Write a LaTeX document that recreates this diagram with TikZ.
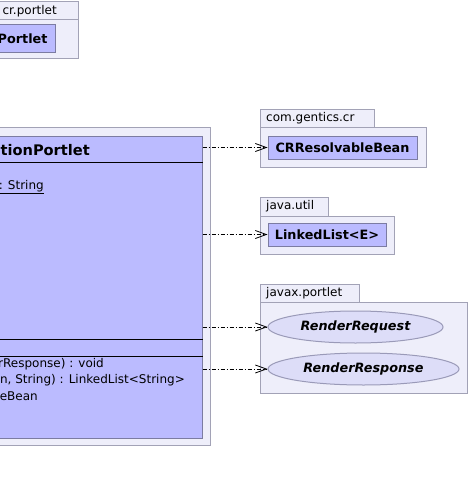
\documentclass[tikz,border=0pt]{standalone}
\usepackage{fontspec}
\setmainfont{DejaVu Sans}
\usetikzlibrary{shapes,arrows.meta,positioning}
\definecolor{pkgfill}{HTML}{EEEEFA}
\definecolor{pkgline}{HTML}{A2A2B6}
\definecolor{clsfill}{HTML}{BBBBFF}
\definecolor{clsline}{HTML}{7C7CA2}
\definecolor{ifcfill}{HTML}{DDDDF8}
\definecolor{ifcline}{HTML}{9A9AB8}

\begin{document}
\begin{tikzpicture}[x=1pt,y=-1pt,
		pkg/.style={draw=pkgline,fill=pkgfill,line width=1pt},
		pkgname/.style={inner sep=0pt,font=\fontsize{12}{14}\selectfont},
		cls/.style={draw=clsline,fill=clsfill,line width=1pt,inner sep=0pt,font=\bfseries\fontsize{12.8}{15}\selectfont},
		ifc/.style={ellipse,draw=ifcline,fill=ifcfill,line width=1pt,inner sep=0pt,font=\bfseries\itshape\fontsize{12.8}{15}\selectfont},
		member/.style={inner sep=0pt,anchor=east,font=\fontsize{12}{14}\selectfont},
		dep/.style={dash pattern=on 4pt off 2pt on 1pt off 2pt,line width=0.8pt,-{Straight Barb[length=11pt,width=8pt,line width=0.8pt]}}]
		\useasboundingbox (0,0) rectangle (470,484);
		\clip (0,0) rectangle (470,484);
		% cr.portlet
		\draw[pkg] (-10,2) rectangle (78,20);
		\draw[pkg] (-10,20) rectangle (78,59);
		\node[pkgname,anchor=east] (crptab) at (57,11) {cr.portlet};
		\node[cls,minimum width=65,minimum height=28] (portlet) at (22.5,39) {};
		\node[cls,draw=none,fill=none,anchor=east] (portletname) at (48,39) {Portlet};
		% package of the portlet class
		\draw[pkg] (-10,127) rectangle (210,445);
		\node[cls,minimum width=212,minimum height=302] (portletcls) at (96,287) {};
		\node[inner sep=0pt,anchor=east,font=\bfseries\fontsize{14.6}{17}\selectfont] (clsname) at (90,150) {tionPortlet};
		\draw[line width=1pt] (portletcls.west |- 0,162) -- (portletcls.east |- 0,162);
		\draw[line width=1pt] (portletcls.west |- 0,339.5) -- (portletcls.east |- 0,339.5);
		\draw[line width=1pt] (portletcls.west |- 0,356) -- (portletcls.east |- 0,356);
		\node[member] (attr) at (44,187) {\underline{: String}};
		\node[member] (opa) at (104,364) {rResponse) : void};
		\node[member] (opb) at (185,380) {n, String) : LinkedList<String>};
		\node[member] (opc) at (38,396.5) {eBean};
		% com.gentics.cr
		\draw[pkg] (260,110) rectangle (374,127);
		\draw[pkg] (260,127) rectangle (426,167);
		\node[pkgname,anchor=west] (crtab) at (266,118.5) {com.gentics.cr};
		\node[cls,minimum width=149,minimum height=23] (crbean) at (342.5,147.5) {CRResolvableBean};
		% java.util
		\draw[pkg] (260,197) rectangle (328,216);
		\draw[pkg] (260,216) rectangle (394,254);
		\node[pkgname,anchor=west] (utiltab) at (266,206.5) {java.util};
		\node[cls,minimum width=118,minimum height=23] (linkedlist) at (327,234.5) {LinkedList<E>};
		% javax.portlet
		\draw[pkg] (260,284) rectangle (359,302);
		\draw[pkg] (260,302) rectangle (467,393);
		\node[pkgname,anchor=west] (portlettab) at (266,293) {javax.portlet};
		\node[ifc,minimum width=175,minimum height=32] (renderreq) at (355.5,327) {RenderRequest};
		\node[ifc,minimum width=191,minimum height=32] (renderresp) at (363.5,369) {RenderResponse};
		% dependencies
		\draw[dep] (portletcls.east |- crbean.west) -- (crbean.west);
		\draw[dep] (portletcls.east |- linkedlist.west) -- (linkedlist.west);
		\draw[dep] (portletcls.east |- renderreq.west) -- (renderreq.west);
		\draw[dep] (portletcls.east |- renderresp.west) -- (renderresp.west);
\end{tikzpicture}
\end{document}
